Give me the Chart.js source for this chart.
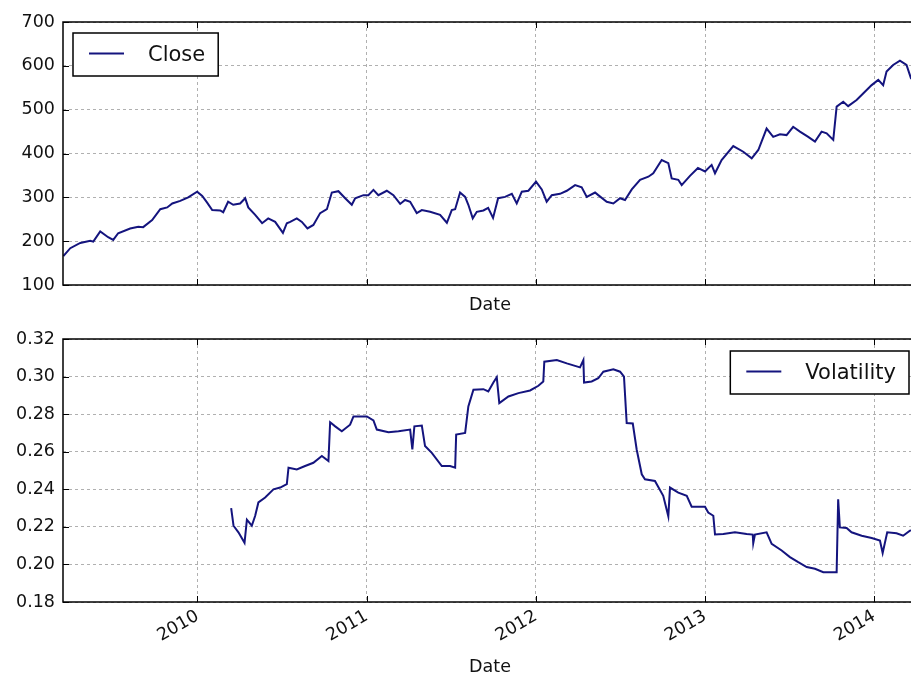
<!DOCTYPE html>
<html>
<head>
<meta charset="utf-8">
<script src="https://cdn.jsdelivr.net/npm/chart.js@4.4.1/dist/chart.umd.min.js"></script>
<style>
html, body { margin: 0; padding: 0; background: #fff; overflow: hidden; width: 911px; height: 679px; }
.panel { position: absolute; left: 0; }
</style>
</head>
<body>
<div class="panel" style="top:0"><canvas id="closeChart" width="930" height="320"></canvas></div>
<div class="panel" style="top:320px"><canvas id="volChart" width="930" height="359"></canvas></div>
<script>
// x values are dates as decimal years
const yearTicks = [2010, 2011, 2012, 2013, 2014];
const closeTicks = [100, 200, 300, 400, 500, 600, 700];
const volTicks = [0.18, 0.20, 0.22, 0.24, 0.26, 0.28, 0.30, 0.32];

const closeDates = [2009.207, 2009.248, 2009.307, 2009.366, 2009.384, 2009.425, 2009.472, 2009.502, 2009.531, 2009.602,
    2009.650, 2009.679, 2009.732, 2009.780, 2009.821, 2009.851, 2009.898, 2009.945, 2009.998, 2010.028,
    2010.057, 2010.087, 2010.134, 2010.152, 2010.181, 2010.211, 2010.252, 2010.282, 2010.300, 2010.341,
    2010.382, 2010.418, 2010.459, 2010.505, 2010.528, 2010.548, 2010.587, 2010.617, 2010.650, 2010.685,
    2010.725, 2010.765, 2010.794, 2010.833, 2010.873, 2010.912, 2010.932, 2010.981, 2011.010, 2011.040,
    2011.069, 2011.119, 2011.158, 2011.198, 2011.227, 2011.257, 2011.296, 2011.326, 2011.375, 2011.434,
    2011.474, 2011.503, 2011.523, 2011.552, 2011.582, 2011.601, 2011.627, 2011.651, 2011.690, 2011.718,
    2011.747, 2011.777, 2011.818, 2011.858, 2011.887, 2011.917, 2011.956, 2012.001, 2012.035, 2012.064,
    2012.094, 2012.143, 2012.183, 2012.232, 2012.271, 2012.301, 2012.350, 2012.369, 2012.419, 2012.458,
    2012.498, 2012.527, 2012.567, 2012.616, 2012.665, 2012.694, 2012.744, 2012.783, 2012.803, 2012.842,
    2012.862, 2012.911, 2012.958, 2013.000, 2013.039, 2013.059, 2013.098, 2013.167, 2013.226, 2013.276,
    2013.315, 2013.364, 2013.403, 2013.443, 2013.482, 2013.521, 2013.561, 2013.610, 2013.650, 2013.689,
    2013.719, 2013.758, 2013.778, 2013.817, 2013.846, 2013.896, 2013.945, 2013.985, 2014.024, 2014.053,
    2014.073, 2014.112, 2014.152, 2014.191, 2014.217, 2014.250];
const closeValues = [166, 184, 196, 201, 199, 222, 209, 203, 218, 229,
    233, 232, 248, 273, 277, 286, 292, 300, 313, 303,
    288, 271, 270, 266, 290, 283, 286, 298, 277, 260,
    241, 252, 244, 219, 241, 244, 252, 244, 229, 237,
    264, 273, 311, 314, 298, 283, 298, 305, 305, 317,
    305, 315, 305, 285, 294, 290, 264, 271, 267, 260,
    242, 271, 273, 311, 301, 283, 252, 267, 270, 276,
    253, 298, 301, 308, 286, 313, 315, 336, 318, 290,
    305, 308, 315, 328, 323, 301, 311, 305, 290, 286,
    298, 294, 318, 340, 347, 355, 385, 378, 343, 340,
    328, 349, 367, 359, 374, 355, 385, 417, 404, 389,
    408, 457, 438, 444, 442, 461, 450, 438, 427, 450,
    446, 431, 507, 518, 508, 522, 541, 556, 568, 556,
    587, 602, 612, 602, 572, 560];

const volDates = [2010.199, 2010.213, 2010.242, 2010.278, 2010.292, 2010.321, 2010.341, 2010.360, 2010.400, 2010.449,
    2010.489, 2010.528, 2010.538, 2010.587, 2010.636, 2010.685, 2010.735, 2010.774, 2010.784, 2010.814,
    2010.853, 2010.902, 2010.922, 2011.001, 2011.040, 2011.060, 2011.129, 2011.188, 2011.257, 2011.270,
    2011.282, 2011.326, 2011.345, 2011.385, 2011.444, 2011.493, 2011.523, 2011.529, 2011.582, 2011.601,
    2011.631, 2011.690, 2011.719, 2011.749, 2011.769, 2011.784, 2011.838, 2011.897, 2011.966, 2012.015,
    2012.044, 2012.050, 2012.124, 2012.183, 2012.261, 2012.281, 2012.285, 2012.330, 2012.369, 2012.399,
    2012.458, 2012.498, 2012.521, 2012.537, 2012.573, 2012.596, 2012.626, 2012.645, 2012.704, 2012.753,
    2012.783, 2012.793, 2012.842, 2012.892, 2012.921, 2013.000, 2013.019, 2013.049, 2013.059, 2013.108,
    2013.177, 2013.246, 2013.282, 2013.285, 2013.295, 2013.364, 2013.394, 2013.453, 2013.502, 2013.551,
    2013.601, 2013.650, 2013.699, 2013.778, 2013.787, 2013.797, 2013.837, 2013.866, 2013.926, 2013.985,
    2014.034, 2014.050, 2014.077, 2014.132, 2014.171, 2014.211, 2014.250];
const volValues = [0.2300, 0.2206, 0.2171, 0.2115, 0.2238, 0.2206, 0.2259, 0.2330, 0.2356, 0.2400,
    0.2409, 0.2427, 0.2515, 0.2506, 0.2524, 0.2541, 0.2577, 0.2550, 0.2757, 0.2735,
    0.2709, 0.2744, 0.2788, 0.2788, 0.2767, 0.2718, 0.2704, 0.2709, 0.2718, 0.2612,
    0.2735, 0.2739, 0.2630, 0.2594, 0.2524, 0.2524, 0.2515, 0.2691, 0.2700, 0.2841,
    0.2930, 0.2933, 0.2921, 0.2968, 0.2996, 0.2859, 0.2894, 0.2912, 0.2926, 0.2951,
    0.2974, 0.3079, 0.3088, 0.3070, 0.3049, 0.3088, 0.2968, 0.2974, 0.2991, 0.3026,
    0.3039, 0.3026, 0.3000, 0.2753, 0.2750, 0.2612, 0.2480, 0.2453, 0.2444, 0.2365,
    0.2256, 0.2409, 0.2382, 0.2365, 0.2307, 0.2307, 0.2276, 0.2259, 0.2159, 0.2162,
    0.2171, 0.2162, 0.2159, 0.2113, 0.2159, 0.2171, 0.2109, 0.2074, 0.2039, 0.2012,
    0.1986, 0.1977, 0.1959, 0.1959, 0.2347, 0.2197, 0.2194, 0.2171, 0.2153, 0.2141,
    0.2127, 0.2061, 0.2171, 0.2166, 0.2153, 0.2180, 0.2185];

const X_MIN = 2009.205;
const X_MAX = 2014.253;
const LINE_COLOR = '#14147e';

Chart.defaults.font.family = '"DejaVu Sans", sans-serif';
Chart.defaults.font.size = 17.5;
Chart.defaults.color = '#111';

// black frame round the plot area plus matplotlib style inward ticks
const frameTicks = {
    id: 'frameTicks',
    afterDatasetsDraw(chart) {
        const { ctx, chartArea: a, scales } = chart;
        const len = 6;
        ctx.save();
        ctx.strokeStyle = '#000';
        ctx.lineWidth = 1;
        ctx.beginPath();
        scales.x.ticks.forEach(t => {
            const px = Math.round(scales.x.getPixelForValue(t.value)) + 0.5;
            ctx.moveTo(px, a.bottom); ctx.lineTo(px, a.bottom - len);
            ctx.moveTo(px, a.top); ctx.lineTo(px, a.top + len);
        });
        scales.y.ticks.forEach(t => {
            const py = Math.round(scales.y.getPixelForValue(t.value)) + 0.5;
            ctx.moveTo(a.left, py); ctx.lineTo(a.left + len, py);
            ctx.moveTo(a.right, py); ctx.lineTo(a.right - len, py);
        });
        ctx.stroke();
        ctx.lineWidth = 1.5;
        ctx.strokeRect(a.left, a.top, a.right - a.left, a.bottom - a.top);
        ctx.restore();
    }
};

// legend drawn inside the plot area, like matplotlib's boxed legend
const boxLegend = {
    id: 'boxLegend',
    afterDraw(chart, args, opts) {
        const { ctx, chartArea: a } = chart;
        const ds = chart.data.datasets[0];
        ctx.save();
        ctx.font = '21px "DejaVu Sans"';
        const tw = ctx.measureText(ds.label).width;
        const w = 75 + tw + 13, h = 43;
        const x = opts.align === 'right' ? a.right - opts.offsetX - w : a.left + opts.offsetX;
        const y = a.top + opts.offsetY;
        ctx.fillStyle = '#fff';
        ctx.fillRect(x, y, w, h);
        ctx.strokeStyle = '#000';
        ctx.lineWidth = 1.5;
        ctx.strokeRect(x, y, w, h);
        ctx.strokeStyle = ds.borderColor;
        ctx.lineWidth = 1.8;
        ctx.beginPath();
        ctx.moveTo(x + 16, y + h / 2 - 1);
        ctx.lineTo(x + 51, y + h / 2 - 1);
        ctx.stroke();
        ctx.fillStyle = '#111';
        ctx.textBaseline = 'middle';
        ctx.fillText(ds.label, x + 75, y + h / 2 + 1);
        ctx.restore();
    }
};

function makePoints(xs, ys) {
    return xs.map((x, i) => ({ x: x, y: ys[i] }));
}

function makeChart(id, label, xs, ys, cfg) {
    return new Chart(document.getElementById(id), {
        type: 'line',
        data: {
            datasets: [{
                label: label,
                data: makePoints(xs, ys),
                borderColor: LINE_COLOR,
                borderWidth: 2,
                pointRadius: 0,
                tension: 0,
                fill: false
            }]
        },
        options: {
            responsive: false,
            animation: false,
            events: [],
            layout: { padding: { left: 0, right: 13, top: cfg.padTop, bottom: 0 } },
            plugins: {
                legend: { display: false },
                tooltip: { enabled: false },
                boxLegend: cfg.legend
            },
            scales: {
                x: {
                    type: 'linear',
                    min: X_MIN,
                    max: X_MAX,
                    afterBuildTicks: s => { s.ticks = yearTicks.map(v => ({ value: v })); },
                    afterFit: s => { s.height = cfg.xHeight; s.paddingLeft = 0; s.paddingRight = 0; },
                    ticks: {
                        display: cfg.xLabels,
                        autoSkip: false,
                        minRotation: 30,
                        maxRotation: 30,
                        padding: 4,
                        callback: v => String(v)
                    },
                    grid: { color: '#b0b0b0', lineWidth: 1, drawTicks: false },
                    border: { display: false, dash: [3, 3] },
                    title: { display: true, text: 'Date', color: '#111', padding: { top: 0, bottom: cfg.titlePad } }
                },
                y: {
                    min: cfg.yTicks[0],
                    max: cfg.yTicks[cfg.yTicks.length - 1],
                    afterBuildTicks: s => { s.ticks = cfg.yTicks.map(v => ({ value: v })); },
                    afterFit: s => { s.width = 63; s.paddingTop = 0; s.paddingBottom = 0; },
                    ticks: { padding: 8, callback: cfg.fmt },
                    grid: { color: '#b0b0b0', lineWidth: 1, drawTicks: false },
                    border: { display: false, dash: [3, 3] }
                }
            }
        },
        plugins: [frameTicks, boxLegend]
    });
}

const closeChart = makeChart('closeChart', 'Close', closeDates, closeValues, {
    padTop: 22, xHeight: 35, xLabels: false, titlePad: 4.5,
    yTicks: closeTicks, fmt: v => String(v),
    legend: { align: 'left', offsetX: 10, offsetY: 11 }
});

const volChart = makeChart('volChart', 'Volatility', volDates, volValues, {
    padTop: 19, xHeight: 77, xLabels: true, titlePad: 1.5,
    yTicks: volTicks, fmt: v => Number(v).toFixed(2),
    legend: { align: 'right', offsetX: 8, offsetY: 12 }
});
</script>
</body>
</html>
